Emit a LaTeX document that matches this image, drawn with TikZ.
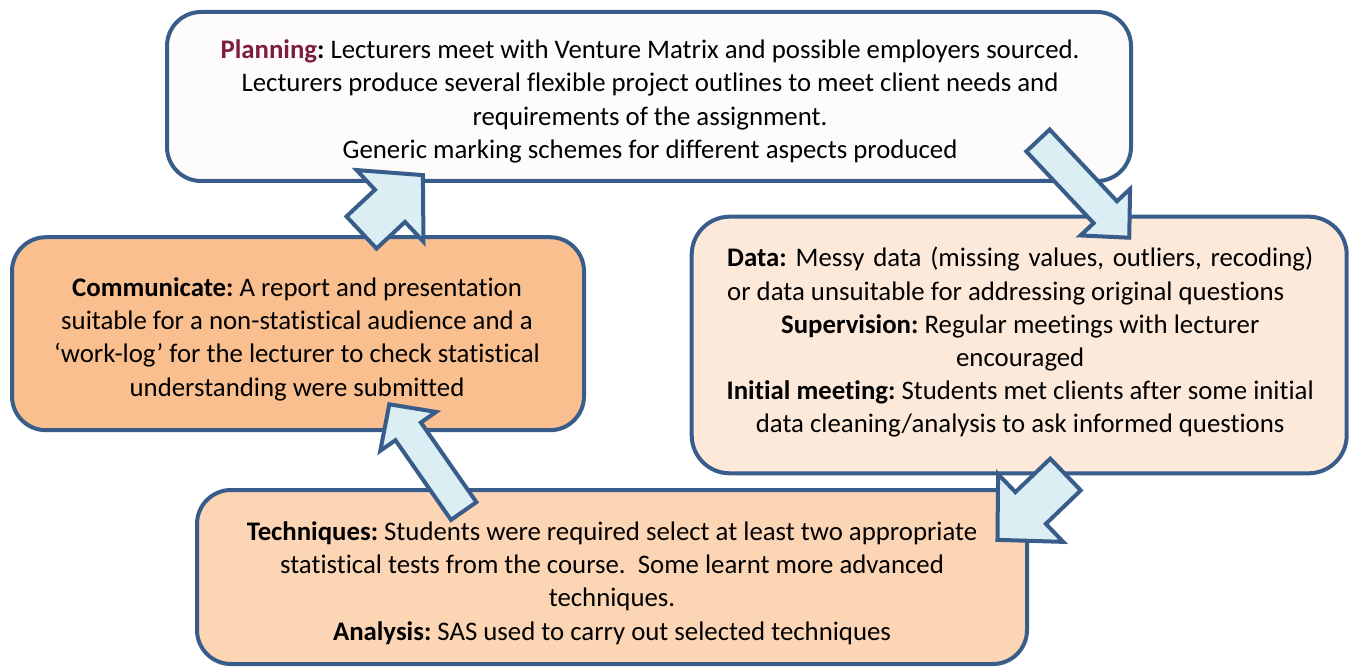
\documentclass[tikz,border=0pt]{standalone}
\usepackage{fontspec}
\setmainfont{Carlito}[Ligatures={TeX,NoCommon}]
\usetikzlibrary{calc}
\definecolor{bordercol}{HTML}{385D8A}
\definecolor{arrowfill}{HTML}{DAEEF3}
\definecolor{planfill}{HTML}{FDFCFA}
\definecolor{commfill}{HTML}{FABF8F}
\definecolor{datafill}{HTML}{FDE9D9}
\definecolor{techfill}{HTML}{FCD5B5}
\definecolor{planred}{HTML}{7F1D3F}
\tikzset{
  stagebox/.style={draw=bordercol, line width=4pt, rounded corners=34pt, inner sep=0pt},
  stagetext/.style={inner sep=0pt, align=center, font=\frenchspacing\fontsize{26.8pt}{33.2pt}\selectfont},
  barrow/.style={draw=bordercol, fill=arrowfill, line width=4pt, line join=miter}
}
\newcommand\blockarrow[5]{%
  \draw[barrow] let \p1=(#1), \p2=(#2), \n1={atan2(\y2-\y1,\x2-\x1)}, \n2={veclen(\x2-\x1,\y2-\y1)} in
  [shift={(\p1)}, rotate=\n1]
  (0pt,{-#3 pt}) -- ({\n2-#5 pt},{-#3 pt}) -- ({\n2-#5 pt},{-#4 pt}) -- ({\n2},0pt)
  -- ({\n2-#5 pt},{#4 pt}) -- ({\n2-#5 pt},{#3 pt}) -- (0pt,{#3 pt}) -- cycle;}
\begin{document}
\begin{tikzpicture}[x=1pt,y=-1pt]
\useasboundingbox (0,0) rectangle (1349,668);
% boxes
\node[stagebox, fill=planfill, minimum width=964pt, minimum height=169pt] (plan) at (649,96.5) {};
\node[stagebox, fill=commfill, minimum width=572pt, minimum height=193pt] (comm) at (298,333.7) {};
\node[stagebox, fill=datafill, minimum width=655pt, minimum height=256.6pt, rounded corners=38pt] (data) at (1019.2,345) {};
\node[stagebox, fill=techfill, minimum width=830pt, minimum height=174pt] (tech) at (612,577) {};
% texts
\node[stagetext] (plantext) at ($(plan.center)+(1,5)$)
  {\textbf{\textcolor{planred}{Planning}:} Lecturers meet with Venture Matrix and possible employers sourced.\\
   Lecturers produce several flexible project outlines to meet client needs and\\
   requirements of the assignment.\\
   Generic marking schemes for different aspects produced};
\node[stagetext] (commtext) at ($(comm.center)+(-1,5.5)$)
  {\textbf{Communicate:} A report and presentation\\
   suitable for a non-statistical audience and a\\
   ‘work-log’ for the lecturer to check statistical\\
   understanding were submitted};
\node[stagetext] (datatext) at ($(data.center)+(1,-2.5)$)
  {\makebox[586pt][s]{\textbf{Data:} Messy data (missing values, outliers, recoding)}\\
   \makebox[586pt][l]{or data unsuitable for addressing original questions}\\
   \textbf{Supervision:} Regular meetings with lecturer\\
   encouraged\\
   \textbf{Initial meeting:} Students met clients after some initial\\
   data cleaning/analysis to ask informed questions};
\node[stagetext] (techtext) at ($(tech.center)+(0,6)$)
  {\textbf{Techniques:} Students were required select at least two appropriate\\
   statistical tests from the course.\ \ Some learnt more advanced\\
   techniques.\\
   \textbf{Analysis:} SAS used to carry out selected techniques};
% arrow end points
\coordinate (a1t) at (361.5,232.5);
\coordinate (a1h) at (423,175);
\coordinate (a2t) at (1038,140.5);
\coordinate (a2h) at (1129.5,238);
\coordinate (a3t) at (1065.5,474.5);
\coordinate (a3h) at (997.3,540);
\coordinate (a4t) at (463.7,511);
\coordinate (a4h) at (389.3,404.3);
\blockarrow{a1t}{a1h}{22}{49}{45}
\blockarrow{a2t}{a2h}{16}{34}{35}
\blockarrow{a3t}{a3h}{22}{47}{46}
\blockarrow{a4t}{a4h}{15.5}{34}{33}
\end{tikzpicture}
\end{document}
